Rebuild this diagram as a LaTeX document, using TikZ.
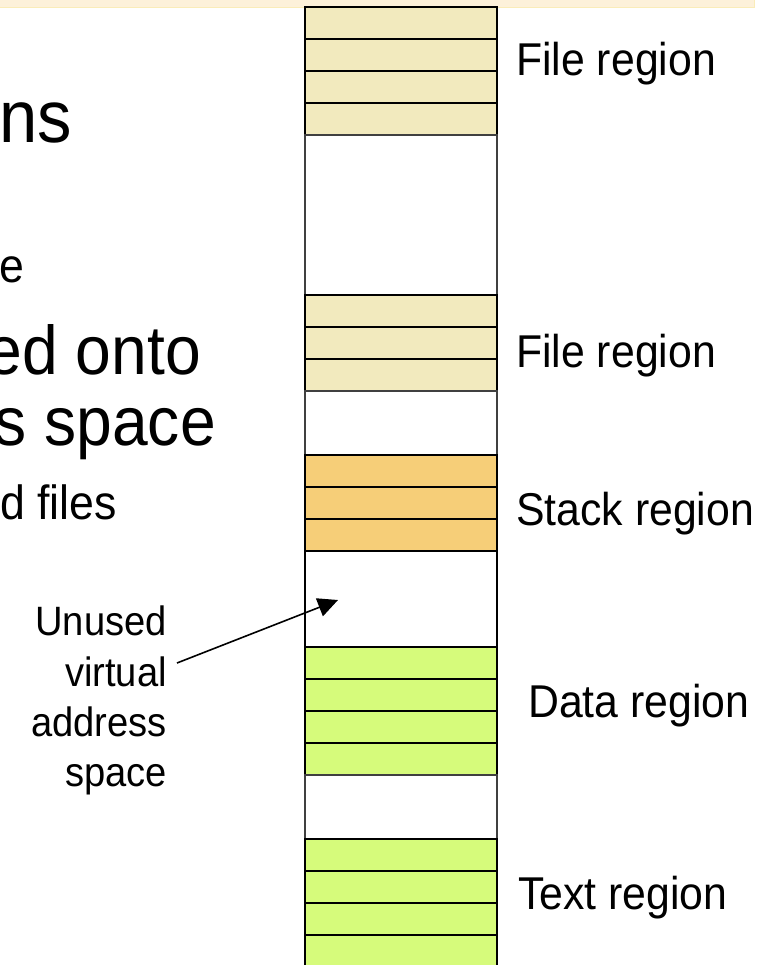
\documentclass[tikz,border=0pt]{standalone}
\usepackage{fontspec}
\setmainfont{Liberation Sans}[FakeStretch=0.93]
\usetikzlibrary{arrows.meta}
\definecolor{filec}{RGB}{242,234,190}
\definecolor{stackc}{RGB}{246,206,120}
\definecolor{greenc}{RGB}{214,251,123}
\definecolor{bandc}{RGB}{253,241,218}
\definecolor{bandedge}{RGB}{250,236,185}
\tikzset{
  cell/.style={draw=black, line width=1.5pt},
  blank/.style={draw=black!75, line width=1.5pt, fill=white},
  lab/.style={inner sep=0pt, anchor=base west, font=\fontsize{46}{52}\selectfont},
  frag/.style={inner sep=0pt, anchor=base east},
  side/.style={inner sep=0pt, anchor=base east, font=\fontsize{41}{50}\selectfont},
}
\begin{document}
\begin{tikzpicture}[x=1pt,y=-1pt]
\useasboundingbox (0,0) rectangle (767,965);
\fill[white] (0,0) rectangle (767,965);
% top band
\fill[bandc] (0,0) rectangle (754,7.5);
\draw[bandedge, line width=1pt] (0,7.5) -- (754,7.5) -- (754,0);
% column
\foreach \i in {0,...,3} {\draw[cell, fill=filec] (305,{7+32*\i}) rectangle (497,{39+32*\i});}
\draw[blank] (305,135) rectangle (497,295);
\foreach \i in {9,...,11} {\draw[cell, fill=filec] (305,{7+32*\i}) rectangle (497,{39+32*\i});}
\draw[blank] (305,391) rectangle (497,455);
\foreach \i in {14,...,16} {\draw[cell, fill=stackc] (305,{7+32*\i}) rectangle (497,{39+32*\i});}
\draw[cell, fill=white] (305,551) rectangle (497,647);
\foreach \i in {20,...,23} {\draw[cell, fill=greenc] (305,{7+32*\i}) rectangle (497,{39+32*\i});}
\draw[blank] (305,775) rectangle (497,839);
\foreach \i in {26,...,29} {\draw[cell, fill=greenc] (305,{7+32*\i}) rectangle (497,{39+32*\i});}
% region labels
\node[lab] (l1) at (516,76) {File region};
\node[lab] (l2) at (516,367) {File region};
\node[lab] (l3) at (516,525) {Stack region};
\node[lab] (l4) at (528,717) {Data region};
\node[lab] (l5) at (518,909) {Text region};
% cut-off slide text
\node[frag, font=\fontsize{74}{80}\selectfont] (t1) at (72,143) {ns};
\node[frag, font=\fontsize{48}{54}\selectfont] (t2) at (25,283) {e};
\node[frag, font=\fontsize{69}{76}\selectfont] (t3) at (201,374) {ed onto};
\node[frag, font=\fontsize{69}{76}\selectfont] (t4) at (216,445) {s space};
\node[frag, font=\fontsize{48}{54}\selectfont] (t5) at (117,519) {d files};
% unused label
\node[side] (u1) at (167,635) {Unused};
\node[side] (u2) at (167,686) {virtual};
\node[side] (u3) at (167,736) {address};
\node[side] (u4) at (167,786) {space};
\coordinate (astart) at (177,663);
\coordinate (aend) at (338,600);
\draw[line width=1.6pt, -{Triangle[length=20pt,width=19pt]}] (astart) -- (aend);
\end{tikzpicture}
\end{document}
